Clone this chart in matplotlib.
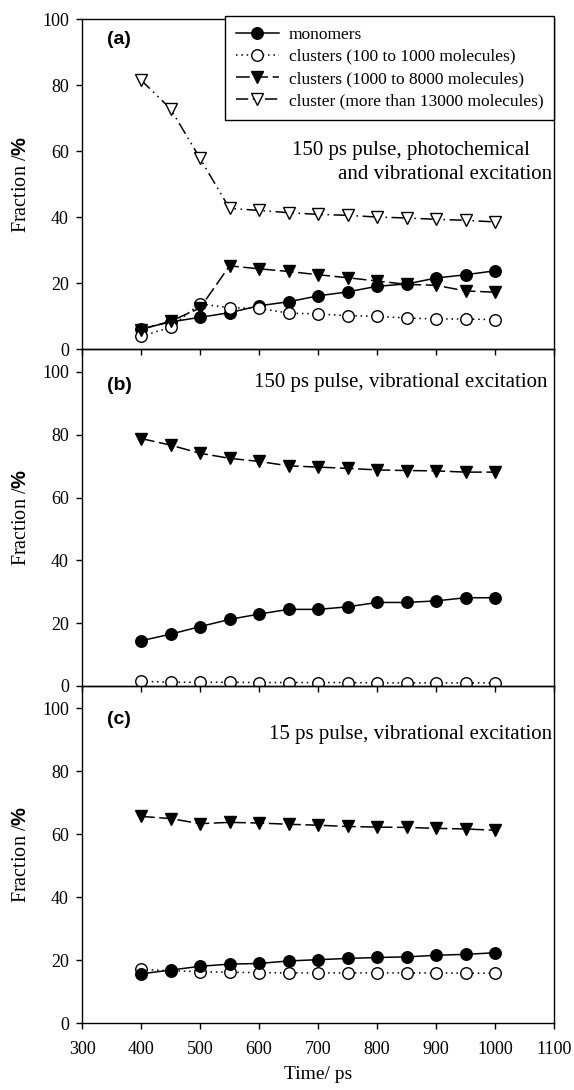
"""
Fraction of monomers and clusters vs time for three excitation conditions
"""
import numpy as np
import matplotlib
matplotlib.use("Agg")
import matplotlib.pyplot as plt

##################################################
#-----------------Data----------------------------
##################################################

time_ps = [400, 450, 500, 550, 600, 650, 700, 750, 800, 850, 900, 950, 1000]

# panel (a): 150 ps pulse, photochemical and vibrational excitation
a_monomers = [6.1, 8.2, 9.6, 11.0, 13.1, 14.3, 16.1, 17.3, 19.0, 19.7, 21.5, 22.5, 23.7]
a_small = [3.8, 6.6, 13.7, 12.5, 12.3, 10.9, 10.6, 10.1, 9.9, 9.4, 9.1, 9.1, 8.9]
a_medium = [5.9, 8.4, 12.4, 25.2, 24.3, 23.5, 22.5, 21.6, 20.6, 19.6, 19.3, 17.6, 17.2]
a_large = [81.5, 72.8, 57.8, 42.6, 42.0, 41.3, 40.8, 40.5, 40.0, 39.7, 39.3, 39.0, 38.5]

# panel (b): 150 ps pulse, vibrational excitation
b_monomers = [14.4, 16.5, 18.9, 21.2, 22.9, 24.4, 24.4, 25.2, 26.6, 26.6, 27.1, 28.1, 28.1]
b_small = [1.5, 1.2, 1.2, 1.2, 1.1, 1.1, 1.1, 1.1, 1.0, 1.0, 1.0, 1.0, 1.0]
b_medium = [78.8, 76.7, 74.1, 72.5, 71.5, 70.1, 69.7, 69.3, 68.8, 68.6, 68.5, 68.1, 68.1]

# panel (c): 15 ps pulse, vibrational excitation
c_monomers = [15.6, 16.8, 18.0, 18.7, 18.9, 19.7, 20.1, 20.5, 20.8, 21.0, 21.5, 21.8, 22.3]
c_small = [17.0, 16.6, 16.3, 16.1, 16.0, 15.9, 15.9, 15.9, 15.9, 15.9, 15.9, 15.8, 15.8]
c_medium = [65.6, 64.9, 63.3, 63.7, 63.5, 63.1, 62.8, 62.4, 62.2, 62.1, 61.8, 61.6, 61.2]

legend_labels = ["monomers", "clusters (100 to 1000 molecules)",
                 "clusters (1000 to 8000 molecules)", "cluster (more than 13000 molecules)"]
x_ticks = [300, 400, 500, 600, 700, 800, 900, 1000, 1100]
y_ticks = [0, 20, 40, 60, 80, 100]

##################################################
#-----------------Plot----------------------------
##################################################

plt.rcParams['font.family'] = ['Liberation Serif', 'DejaVu Serif']
plt.rcParams['mathtext.fontset'] = 'custom'
plt.rcParams['mathtext.bf'] = 'Liberation Sans:bold'

fig = plt.figure(figsize=(5.74, 10.9), dpi=100)
left, width = 82 / 574, 472 / 574
ax_a = fig.add_axes([left, 1 - 349 / 1090, width, 330 / 1090])
ax_b = fig.add_axes([left, 1 - 686 / 1090, width, 337 / 1090])
ax_c = fig.add_axes([left, 1 - 1023 / 1090, width, 337 / 1090])

styles = {
    "mono": dict(color='black', marker='o', ms=8.3, mfc='black', mec='black', lw=1.1, ls='-'),
    "small": dict(color='black', marker='o', ms=8.3, mfc='white', mec='black', lw=1.1, ls=(0, (1, 2.5))),
    "medium": dict(color='black', marker='v', ms=8.8, mfc='black', mec='black', lw=1.1, ls=(0, (9, 3))),
    "large": dict(color='black', marker='v', ms=9.2, mfc='white', mec='black', lw=1.1, ls=(0, (8, 3, 1, 3, 1, 3))),
}

ax_a.plot(time_ps, a_monomers, label=legend_labels[0], **styles["mono"])
ax_a.plot(time_ps, a_small, label=legend_labels[1], **styles["small"])
ax_a.plot(time_ps, a_medium, label=legend_labels[2], **styles["medium"])
ax_a.plot(time_ps, a_large, label=legend_labels[3], **styles["large"])

ax_b.plot(time_ps, b_small, **styles["small"])
ax_b.plot(time_ps, b_monomers, **styles["mono"])
ax_b.plot(time_ps, b_medium, **styles["medium"])

ax_c.plot(time_ps, c_small, **styles["small"])
ax_c.plot(time_ps, c_monomers, **styles["mono"])
ax_c.plot(time_ps, c_medium, **styles["medium"])

ax_a.set_ylim(0, 100)
ax_b.set_ylim(0, 107.3)
ax_c.set_ylim(0, 107.0)

for ax in (ax_a, ax_b, ax_c):
    ax.set_xlim(300, 1100)
    ax.set_xticks(x_ticks)
    ax.set_yticks(y_ticks)
    ax.tick_params(direction='out', length=4, width=1, labelsize=13)
    ax.tick_params(axis='y', pad=5.5)
    ax.tick_params(axis='x', pad=9)
    ax.set_ylabel(r"Fraction /$\mathbf{\%}$", fontsize=14.5, labelpad=8)
    for s in ax.spines.values():
        s.set_linewidth(1.0)
    ax.patch.set_alpha(0)

ax_a.tick_params(labelbottom=False)
ax_b.tick_params(labelbottom=False)
ax_c.set_xlabel("Time/ ps", fontsize=14, labelpad=6)

# panel labels and notes
for lab, y in (("(a)", 39), ("(b)", 385), ("(c)", 720)):
    fig.text(107 / 574, 1 - y / 1090, lab, family='Liberation Sans', weight='bold',
             fontsize=14, va='center', ha='left')

fig.text(530 / 574, 1 - 150 / 1090, "150 ps pulse, photochemical", fontsize=15, ha='right', va='center')
fig.text(552 / 574, 1 - 174 / 1090, "and vibrational excitation", fontsize=15, ha='right', va='center')
fig.text(548 / 574, 1 - 383 / 1090, "150 ps pulse, vibrational excitation", fontsize=15, ha='right', va='center')
fig.text(552 / 574, 1 - 735 / 1090, "15 ps pulse, vibrational excitation", fontsize=15, ha='right', va='center')

leg = ax_a.legend(loc='upper right', bbox_to_anchor=(1.0, 1.009), borderaxespad=0,
                  fontsize=12.5, frameon=True, fancybox=False, edgecolor='black',
                  framealpha=1, handlelength=2.5, handletextpad=0.57,
                  borderpad=0.6, labelspacing=0.35)
leg.get_frame().set_linewidth(1.0)

fig.savefig('out.png', dpi=100)
